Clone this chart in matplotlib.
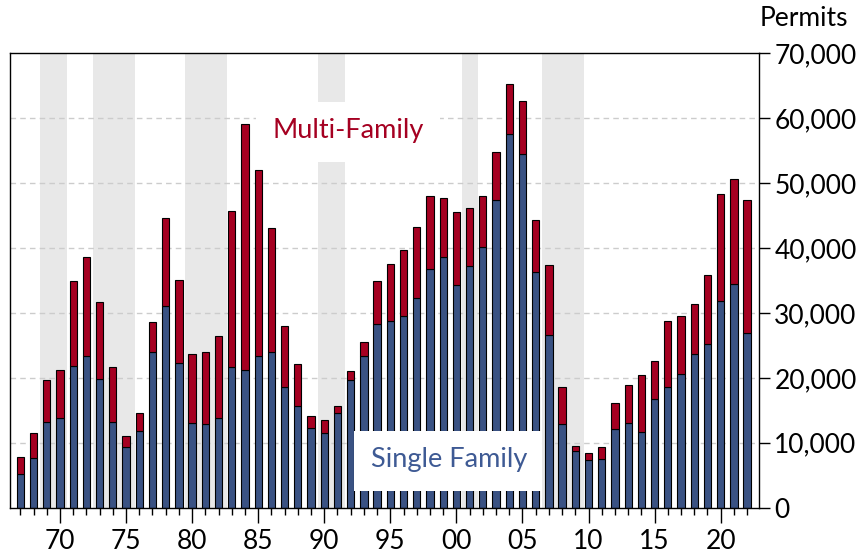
import matplotlib
matplotlib.use("Agg")
import matplotlib.pyplot as plt
from matplotlib.patches import Rectangle
from matplotlib.ticker import FuncFormatter, MultipleLocator
import numpy as np

years = list(range(1967, 2023))
total = [7870, 11480, 19600, 21250, 34880, 38580, 31640, 21660, 11060, 14560,
         28610, 44660, 35140, 23720, 23920, 26390, 45680, 59170, 52010, 43060,
         28040, 22180, 14150, 13530, 15590, 21100, 25570, 34980, 37560, 39770,
         43270, 47990, 47740, 45530, 46100, 47990, 54840, 65330, 62650, 44290,
         37350, 18630, 9500, 8490, 9320, 16200, 18830, 20430, 22530, 28810,
         29480, 31440, 35910, 48360, 50570, 47330]
single = [5200, 7620, 13270, 13890, 21870, 23300, 19810, 13270, 9420, 11840,
          23920, 31020, 22280, 13120, 12920, 13890, 21660, 21250, 23300, 23920,
          18670, 15590, 12350, 11480, 14560, 19710, 23300, 28350, 28810, 29580,
          32310, 36790, 38580, 34260, 37300, 40180, 47330, 57520, 54430, 36330,
          26600, 12920, 8800, 7360, 7460, 12150, 13120, 11730, 16780, 18580,
          20630, 23720, 25150, 31790, 34520, 26910]
multi = [t - s for t, s in zip(total, single)]

bands = [(1968.5, 1970.53), (1972.47, 1975.66), (1979.46, 1982.61),
         (1989.5, 1991.58), (2000.46, 2001.65), (2006.48, 2009.65)]

yticks = [0, 10000, 20000, 30000, 40000, 50000, 60000, 70000]
xtick_years = [1970, 1975, 1980, 1985, 1990, 1995, 2000, 2005, 2010, 2015, 2020]
xtick_labels = ["70", "75", "80", "85", "90", "95", "00", "05", "10", "15", "20"]

navy = "#3A5283"
red = "#A50021"
font = ["Lato", "DejaVu Sans"]
plt.rcParams["font.family"] = font

fig = plt.figure(figsize=(8.57, 5.56), dpi=100)
ax = fig.add_axes([10 / 857, 1 - 507.7 / 556, 749 / 857, 454.4 / 556])

for a, b in bands:
    ax.axvspan(a, b, color="#E8E8E8", lw=0, zorder=0)

for yv in yticks[1:-1]:
    ax.axhline(yv, color="#CCCCCC", lw=1.0, ls=(0, (4, 3)), zorder=0.5)

ax.bar(years, single, width=0.55, color=navy, edgecolor="black", lw=0.8, zorder=2)
ax.bar(years, multi, bottom=single, width=0.55, color=red, edgecolor="black", lw=0.8, zorder=2)

ax.add_patch(Rectangle((0.3284, 0.7608), 0.5741 - 0.3284, 0.8928 - 0.7608,
                       transform=ax.transAxes, facecolor="white", edgecolor="none", zorder=3))
ax.text(0.451, 0.831, "Multi-Family", transform=ax.transAxes, ha="center", va="center",
        color=red, fontsize=19.5, zorder=4)
ax.add_patch(Rectangle((0.4593, 0.0368), 0.709 - 0.4593, 0.1688 - 0.0368,
                       transform=ax.transAxes, facecolor="white", edgecolor="none", zorder=3))
ax.text(0.586, 0.105, "Single Family", transform=ax.transAxes, ha="center", va="center",
        color="#3E5A94", fontsize=19.5, zorder=4)

ax.set_xlim(1966.22, 2022.9)
ax.set_ylim(0, 70000)

ax.yaxis.tick_right()
ax.set_yticks(yticks)
ax.yaxis.set_major_formatter(FuncFormatter(lambda v, p: f"{int(v):,}"))
ax.tick_params(axis="y", which="major", direction="out", length=8, width=1,
               labelsize=19, pad=3)

ax.set_xticks(xtick_years)
ax.set_xticklabels(xtick_labels)
ax.xaxis.set_minor_locator(MultipleLocator(1))
ax.tick_params(axis="x", which="major", direction="out", length=11, width=1,
               labelsize=19, pad=4)
ax.tick_params(axis="x", which="minor", direction="out", length=5, width=1)

for s in ax.spines.values():
    s.set_color("black")
    s.set_linewidth(1.0)

fig.text(760 / 857, 1 - 18 / 556, "Permits", ha="left", va="center", fontsize=19)

fig.savefig("out.png", dpi=100)
